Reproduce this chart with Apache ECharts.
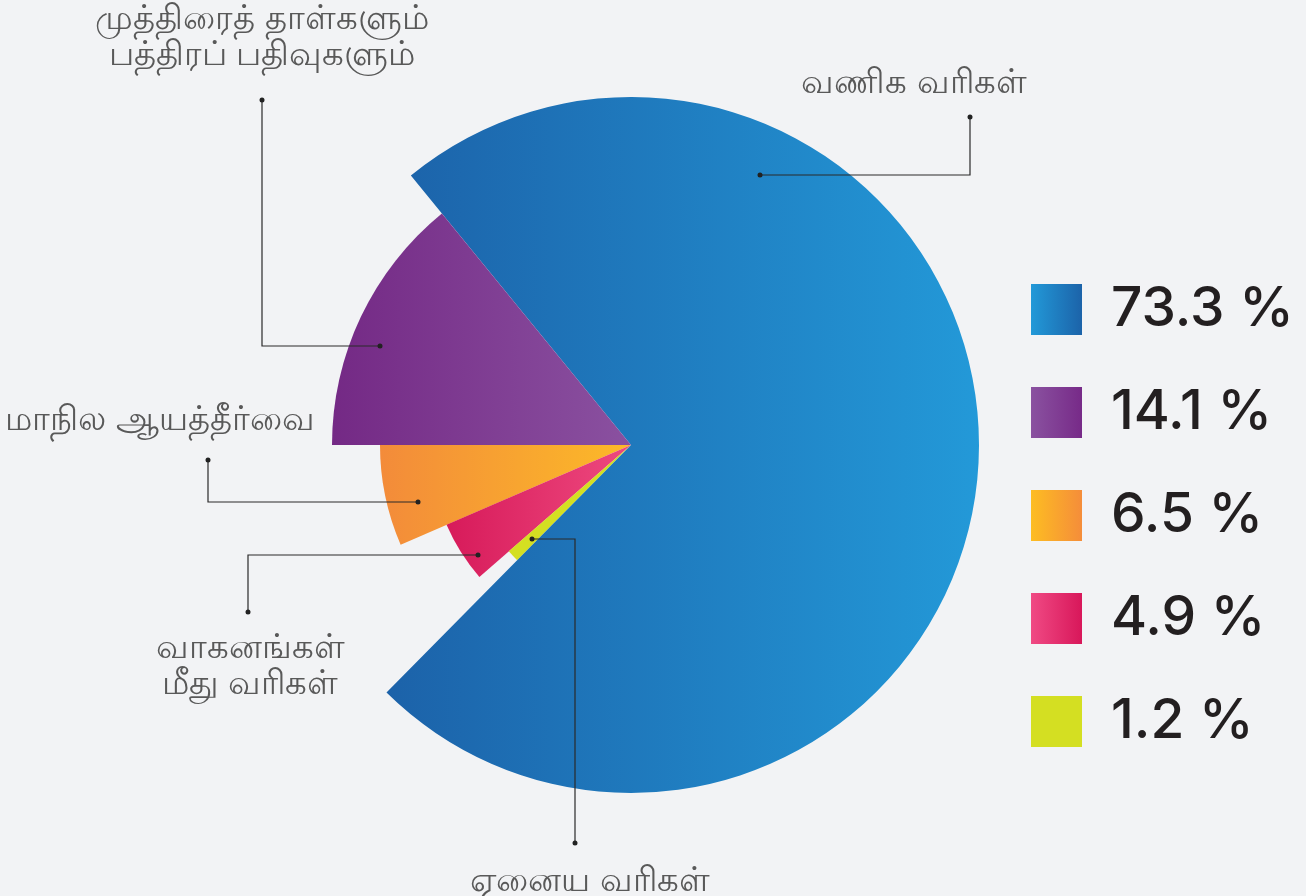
<!DOCTYPE html>
<html>
<head>
<meta charset="utf-8">
<script src="https://cdn.jsdelivr.net/npm/echarts@6/dist/echarts.min.js"></script>
<style>
  html, body { margin: 0; padding: 0; background: #f2f3f5; }
  #chart { width: 1306px; height: 896px; }
</style>
</head>
<body>
<div id="chart"></div>
<script>
// slices in drawing order, clockwise from 9 o'clock
const categories = [
  'முத்திரைத் தாள்களும்\nபத்திரப் பதிவுகளும்',
  'வணிக வரிகள்',
  'ஏனைய வரிகள்',
  'வாகனங்கள்\nமீது வரிகள்',
  'மாநில ஆயத்தீர்வை'
];
const shares = [14.1, 73.3, 1.2, 4.9, 6.5];
const legendOrder = [1, 0, 4, 3, 2];
const pctLabels = ['14.1 %', '73.3 %', '1.2 %', '4.9 %', '6.5 %'];

// each slice has its own outer radius
const radii = [299, 348, 162, 201, 251];
const sliceGrad = [
  ['#742985', '#8a51a0'],
  ['#1c62a9', '#2399d8'],
  ['#d4df22', '#d4df22'],
  ['#d71a5a', '#ee4a7f'],
  ['#f38b3a', '#fcba28']
];
const legendGrad = [
  ['#8a52a0', '#772a88'],
  ['#2299d8', '#1c63a9'],
  ['#d4df22', '#d4df22'],
  ['#f04a84', '#d8175a'],
  ['#fdbd22', '#f58d3a']
];

// leader lines: anchor in slice -> elbow -> end near label, and label centre
const leaders = [
  { pts: [[380, 346], [262, 346], [262, 100]], label: [262, 38] },
  { pts: [[760, 175], [970, 175], [970, 117]], label: [914, 84] },
  { pts: [[532, 539], [575, 539], [575, 843]], label: [590, 882] },
  { pts: [[478, 555], [248, 555], [248, 612]], label: [250, 667] },
  { pts: [[418, 502], [208, 502], [208, 460]], label: [160, 421] }
];

const grad = (c) => ({
  type: 'linear', x: 0, y: 0, x2: 1, y2: 0,
  colorStops: [{ offset: 0, color: c[0] }, { offset: 1, color: c[1] }]
});

const chart = echarts.init(document.getElementById('chart'));

const series = categories.map((name, i) => ({
  type: 'pie',
  center: [631, 445],
  radius: [0, radii[i]],
  startAngle: 180,
  clockwise: true,
  avoidLabelOverlap: false,
  animation: false,
  z: 10 - i,
  itemStyle: { borderWidth: 0 },
  label: {
    show: true,
    position: 'outside',
    color: '#595959',
    fontSize: 34,
    lineHeight: 36,
    align: 'center',
    formatter: '{b}'
  },
  labelLine: { show: false },
  labelLayout: (p) => {
    const l = leaders[p.dataIndex];
    return { x: l.label[0], y: l.label[1], align: 'center', verticalAlign: 'middle' };
  },
  data: shares.map((v, j) => j === i
    ? { name: name, value: v, itemStyle: { color: grad(sliceGrad[j]) } }
    : {
        name: '_' + j, value: v,
        itemStyle: { color: 'transparent' },
        label: { show: false },
        emphasis: { disabled: true }
      })
}));

// leader lines with a dot at each end, drawn above the slices
const guides = [];
leaders.forEach((l) => {
  guides.push({
    type: 'polyline', z: 100,
    shape: { points: l.pts },
    style: { stroke: '#2a2a2a', lineWidth: 1.2, fill: null }
  });
  [l.pts[0], l.pts[2]].forEach((p) => {
    guides.push({
      type: 'circle', x: p[0], y: p[1], z: 101,
      shape: { r: 2.5 }, style: { fill: '#222' }
    });
  });
});

const option = {
  backgroundColor: '#f2f3f5',
  legend: {
    orient: 'vertical',
    left: 1026,
    top: 277,
    itemWidth: 51,
    itemHeight: 51,
    itemGap: 48,
    icon: 'rect',
    selectedMode: false,
    data: legendOrder.map((j) => ({
      name: categories[j],
      itemStyle: { color: grad(legendGrad[j]) }
    })),
    formatter: (name) => pctLabels[categories.indexOf(name)],
    textStyle: {
      fontFamily: 'Inter',
      fontWeight: 500,
      fontSize: 55,
      color: '#231f20',
      padding: [0, 0, 0, 24]
    }
  },
  graphic: guides,
  series: series
};

option && chart.setOption(option);
</script>
</body>
</html>
